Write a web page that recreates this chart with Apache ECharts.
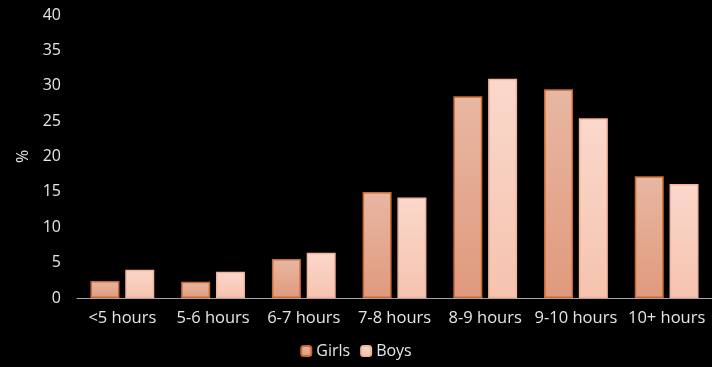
<!DOCTYPE html>
<html><head><meta charset="utf-8">
<script src="https://cdn.jsdelivr.net/npm/echarts@6/dist/echarts.min.js"></script>
<style>html,body{margin:0;padding:0;background:#000;}#c{width:712px;height:367px;}</style>
</head><body><div id="c"></div>
<script>
const categories = ['<5 hours','5-6 hours','6-7 hours','7-8 hours','8-9 hours','9-10 hours','10+ hours'];
const girls = [2.4, 2.3, 5.5, 15.0, 28.5, 29.5, 17.2];
const boys = [4.0, 3.7, 6.4, 14.2, 31.0, 25.4, 16.1];
const yTicks = {min:0, max:40, interval:5};

const font = '"Open Sans", Lato, sans-serif';
const chart = echarts.init(document.getElementById('c'));
chart.setOption({
  backgroundColor:'#000',
  animation:false,
  grid:{left:77, right:0, top:15, bottom:69},
  legend:{bottom:3, left:'center', itemWidth:10, itemHeight:10, itemGap:10,
    textStyle:{color:'#e6e6e6', fontSize:16, fontFamily:font},
    data:['Girls','Boys']},
  xAxis:{type:'category', data:categories,
    axisLine:{lineStyle:{color:'#a6a6a6', width:1}},
    axisTick:{show:false},
    axisLabel:{color:'#e6e6e6', fontSize:16.5, fontFamily:font, margin:12, interval:0}},
  yAxis:{type:'value', min:yTicks.min, max:yTicks.max, interval:yTicks.interval,
    name:'%', nameLocation:'middle', nameGap:42, nameRotate:90,
    nameTextStyle:{color:'#e6e6e6', fontSize:16, fontFamily:font},
    splitLine:{show:false}, axisLine:{show:false}, axisTick:{show:false},
    axisLabel:{color:'#e6e6e6', fontSize:16, fontFamily:font, margin:16}},
  series:[
    {name:'Girls', type:'bar', data:girls, barWidth:29, barGap:'20%',
     itemStyle:{borderColor:'#c96a32', borderWidth:1.5,
       color:new echarts.graphic.LinearGradient(0,0,0,1,[{offset:0,color:'#e8b7a2'},{offset:1,color:'#e09a7d'}])}},
    {name:'Boys', type:'bar', data:boys, barWidth:29,
     itemStyle:{borderColor:'#f2b49c', borderWidth:1.5,
       color:new echarts.graphic.LinearGradient(0,0,0,1,[{offset:0,color:'#fad8cb'},{offset:1,color:'#f6c3af'}])}}
  ]
});
</script></body></html>
